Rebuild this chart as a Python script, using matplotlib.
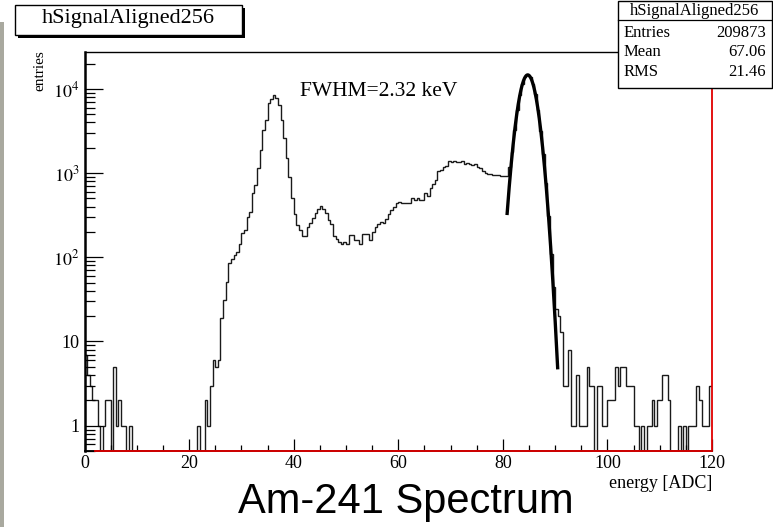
import numpy as np
import matplotlib
matplotlib.use("Agg")
import matplotlib.pyplot as plt
from matplotlib.patches import Rectangle
from matplotlib.lines import Line2D
from matplotlib.ticker import FixedLocator, FixedFormatter, LogLocator, MultipleLocator, NullFormatter

plt.rcParams['font.family'] = ['Liberation Serif', 'DejaVu Serif']
plt.rcParams['mathtext.fontset'] = 'stix'

# histogram: 240 bins of 0.5 ADC between 0 and 120
x_min, x_max, n_bins = 0.0, 120.0, 240
counts = [
    # 0 - 9 ADC, noise
    7, 4, 3, 2, 2, 1, 0, 1, 2, 2, 0, 5, 1, 2, 1, 1, 0, 1,
    0, 0, 0, 0, 0, 0, 0, 0, 0, 0, 0, 0, 0, 0, 0, 0, 0, 0, 0, 0, 0, 0, 0, 0, 0,
    1, 0, 0,
    # rise and 36 ADC peak
    2, 1, 3, 6, 5, 6, 19, 31, 51, 86, 96, 106, 116, 145, 195, 210, 302, 347,
    575, 720, 1140, 1880, 3250, 4280, 6760, 7650, 8480,
    7750, 6500, 4300, 2600, 1500, 900, 500, 330, 240,
    # 41 - 81 ADC
    214, 178, 178, 229, 256, 297, 339, 380, 412, 380,
    339, 281, 248, 178, 166, 152, 143, 152, 143, 182,
    182, 160, 160, 143, 187, 187, 187, 160, 200, 229,
    246, 264, 255, 288, 330, 362, 400, 447, 450, 436,
    447, 440, 447, 510, 476, 510, 476, 480, 575, 530,
    660, 740, 830, 1070, 1090, 1170, 1210, 1390, 1350, 1400,
    1350, 1370, 1400, 1300, 1330, 1300, 1250, 1270, 1190, 1140,
    1070, 1010, 990, 980, 960, 946, 960, 930, 920, 920,
    # 85 ADC peak
    1190, 1800, 3300, 5600, 8500, 11500, 13700, 14600, 13900, 11600,
    8600, 5600, 3200, 1700, 760, 310, 110, 45, 24,
    # tail
    20, 13, 3, 3, 8, 1, 1, 4, 1, 1, 1, 5, 3, 3, 0, 3, 3, 1, 1, 2,
    2, 2, 5, 3, 5, 5, 3, 3, 3, 1, 1, 0, 1, 0, 1, 1, 2, 1, 2, 2,
    4, 4, 2, 0, 0, 0, 1, 0, 1, 0, 1, 1, 1, 3, 2, 1, 1, 1, 3,
]

# gaussian fit of the 85 ADC line
fit_const = 14700.0
fit_mean = 84.76
fit_sigma = 1.43
fit_lo, fit_hi = 80.8, 90.5

hist_name = "hSignalAligned256"
stats_labels = ["Entries", "Mean", "RMS"]
stats_values = ["209873", "67.06", "21.46"]
fwhm_text = "FWHM=2.32 keV"

ytick_vals = [1, 10, 100, 1000, 10000]
ytick_text = ["1", "10", "$10^{2}$", "$10^{3}$", "$10^{4}$"]
xtick_vals = [0, 20, 40, 60, 80, 100, 120]
y_lo, y_hi = 0.5, 27500

W, H = 773, 527
fig = plt.figure(figsize=(W / 100, H / 100), dpi=100)


def fx(px):
    return px / W


def fy(py):
    return 1 - py / H


ax = fig.add_axes([fx(84.5), fy(451), fx(712) - fx(84.5), fy(52) - fy(451)])

counts = np.array(counts, dtype=float)
edges = np.linspace(x_min, x_max, n_bins + 1)
shown = np.where(counts > 0, counts, y_lo)
ax.stairs(shown, edges, color='#1a1a1a', lw=1.0, baseline=None)

xf = np.linspace(fit_lo, fit_hi, 300)
yf = fit_const * np.exp(-0.5 * ((xf - fit_mean) / fit_sigma) ** 2)
ax.plot(xf, yf, color='black', lw=2.4, solid_capstyle='butt')

# red zero line along the bottom
ax.plot([2, x_max], [y_lo * 1.01, y_lo * 1.01], color='#e00000', lw=1.3, clip_on=False, zorder=5)

ax.set_yscale('log')
ax.set_xlim(x_min, x_max)
ax.set_ylim(y_lo, y_hi)

ax.yaxis.set_major_locator(FixedLocator(ytick_vals))
ax.yaxis.set_major_formatter(FixedFormatter(ytick_text))
ax.yaxis.set_minor_locator(LogLocator(base=10, subs=np.arange(2, 10)))
ax.yaxis.set_minor_formatter(NullFormatter())
ax.xaxis.set_major_locator(FixedLocator(xtick_vals))
ax.xaxis.set_minor_locator(MultipleLocator(5))

ax.tick_params(axis='y', which='major', direction='in', length=13, width=0.9, pad=3.5, labelsize=13)
ax.tick_params(axis='y', which='minor', direction='in', length=7, width=0.9)
ax.tick_params(axis='x', which='major', direction='in', length=8.5, width=0.9, pad=3, labelsize=13)
ax.tick_params(axis='x', which='minor', direction='in', length=4.3, width=0.9)

ax.spines['left'].set_linewidth(1.8)
ax.spines['bottom'].set_linewidth(1.3)
ax.spines['top'].set_linewidth(1.0)
ax.spines['right'].set_color('#e00000')
ax.spines['right'].set_linewidth(1.3)

# axis titles
fig.text(fx(40), fy(50), "entries", rotation=90, ha='center', va='top', fontsize=11)
fig.text(fx(712), fy(484), "energy [ADC]", ha='right', va='center', fontsize=13)
fig.text(fx(300), fy(92), fwhm_text, ha='left', va='center', fontsize=15.5)
fig.text(fx(406), fy(502), "Am-241 Spectrum", ha='center', va='center', fontsize=30,
         family=['Liberation Sans', 'DejaVu Sans'])

# grey strip on the left edge
fig.patches.append(Rectangle((0, 0), fx(4), fy(22), transform=fig.transFigure,
                             facecolor='#a9a99f', edgecolor='none', zorder=1))

# title pave with shadow
fig.patches.append(Rectangle((fx(18), fy(38)), fx(242) - fx(15), fy(5) - fy(35),
                             transform=fig.transFigure, facecolor='black', edgecolor='none', zorder=1))
fig.patches.append(Rectangle((fx(15), fy(35)), fx(242) - fx(15), fy(5) - fy(35),
                             transform=fig.transFigure, facecolor='white', edgecolor='black', lw=1.0, zorder=2))
fig.text(fx(128.5), fy(19), hist_name, ha='center', va='center', fontsize=16, zorder=3)

# stats box
fig.patches.append(Rectangle((fx(618), fy(88)), fx(772) - fx(618), fy(0.5) - fy(88),
                             transform=fig.transFigure, facecolor='white', edgecolor='black', lw=1.0, zorder=2))
fig.lines.append(Line2D([fx(618), fx(772)], [fy(20), fy(20)], transform=fig.transFigure,
                        color='black', lw=0.9, zorder=3))
fig.text(fx(695), fy(11), hist_name, ha='center', va='center', fontsize=12, zorder=4)
for i, (lab, val) in enumerate(zip(stats_labels, stats_values)):
    yy = 33 + i * 19.5
    fig.text(fx(624), fy(yy), lab, ha='left', va='center', fontsize=12, zorder=4)
    fig.text(fx(766), fy(yy), val, ha='right', va='center', fontsize=12, zorder=4)

fig.savefig("out.png", dpi=100)
